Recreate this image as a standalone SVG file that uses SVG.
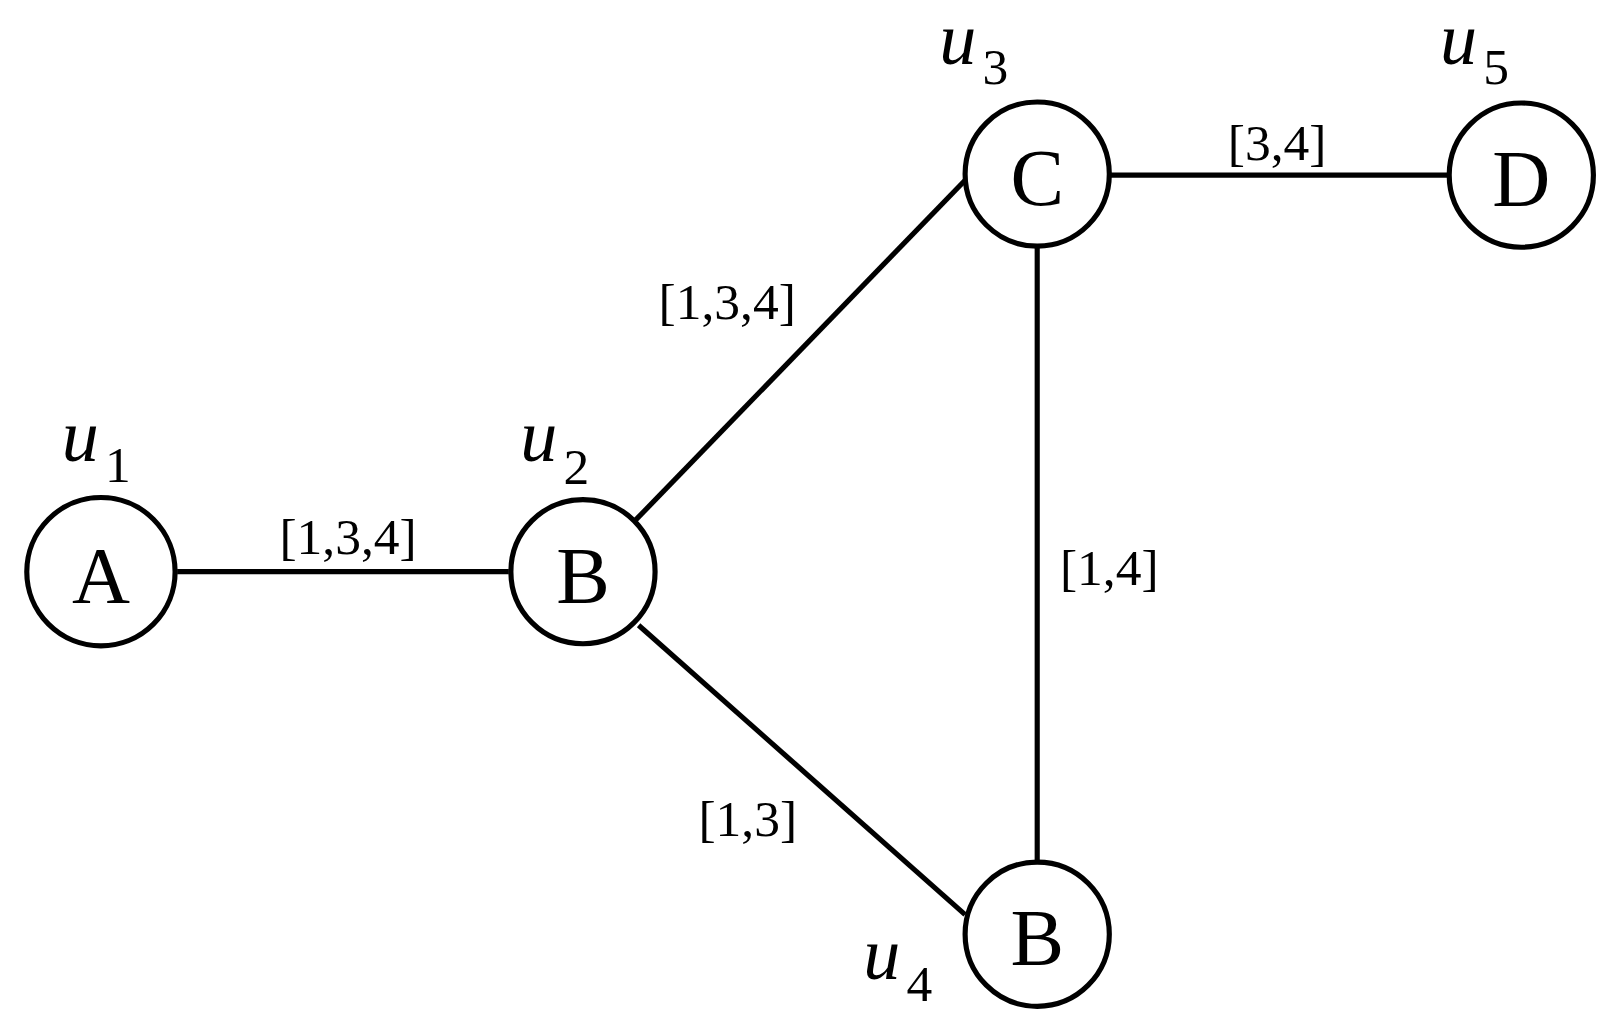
<svg xmlns="http://www.w3.org/2000/svg" width="1606" height="1025" viewBox="0 0 1606 1025">
<style>
.n{fill:#fff;stroke:#000;stroke-width:5}
.l{font-family:"Liberation Serif","Times New Roman",serif;font-size:78px;text-anchor:middle}
.u{font-family:"Liberation Serif","Times New Roman",serif;font-size:72px;font-style:italic}
.s{font-family:"Liberation Serif","Times New Roman",serif;font-size:50px}
.e{font-family:"Liberation Serif","Times New Roman",serif;font-size:50px;text-anchor:middle}
line{stroke:#000;stroke-width:5}
</style>
<rect width="1606" height="1025" fill="#fff"/>
<g transform="scale(1.03)">
<g id="edges">
<line x1="172" y1="555" x2="494" y2="555"/>
<line x1="617" y1="505" x2="937" y2="175"/>
<line x1="620" y1="607" x2="937" y2="888"/>
<line x1="1007" y1="239" x2="1007" y2="837"/>
<line x1="1077" y1="170" x2="1407" y2="170"/>
<text class="e" x="338" y="538">[1,3,4]</text>
<text class="e" x="706" y="310">[1,3,4]</text>
<text class="e" x="1077" y="568">[1,4]</text>
<text class="e" x="726" y="812">[1,3]</text>
<text class="e" x="1240" y="155">[3,4]</text>
</g>
<g id="u1"><circle class="n" cx="98" cy="555" r="72"/><text class="l" x="98" y="585">A</text><text class="u" x="60" y="448">u</text><text class="s" x="102" y="468">1</text></g>
<g id="u2"><circle class="n" cx="566" cy="555" r="70"/><text class="l" x="566" y="585">B</text><text class="u" x="505" y="448">u</text><text class="s" x="547" y="470">2</text></g>
<g id="u3"><circle class="n" cx="1007" cy="169" r="70"/><text class="l" x="1007" y="199">C</text><text class="u" x="912" y="62">u</text><text class="s" x="954" y="82">3</text></g>
<g id="u5"><circle class="n" cx="1477" cy="170" r="70"/><text class="l" x="1477" y="200">D</text><text class="u" x="1398" y="62">u</text><text class="s" x="1440" y="82">5</text></g>
<g id="u4"><circle class="n" cx="1007" cy="907" r="70"/><text class="l" x="1007" y="937">B</text><text class="u" x="838" y="950">u</text><text class="s" x="880" y="972">4</text></g>
</g>
</svg>
